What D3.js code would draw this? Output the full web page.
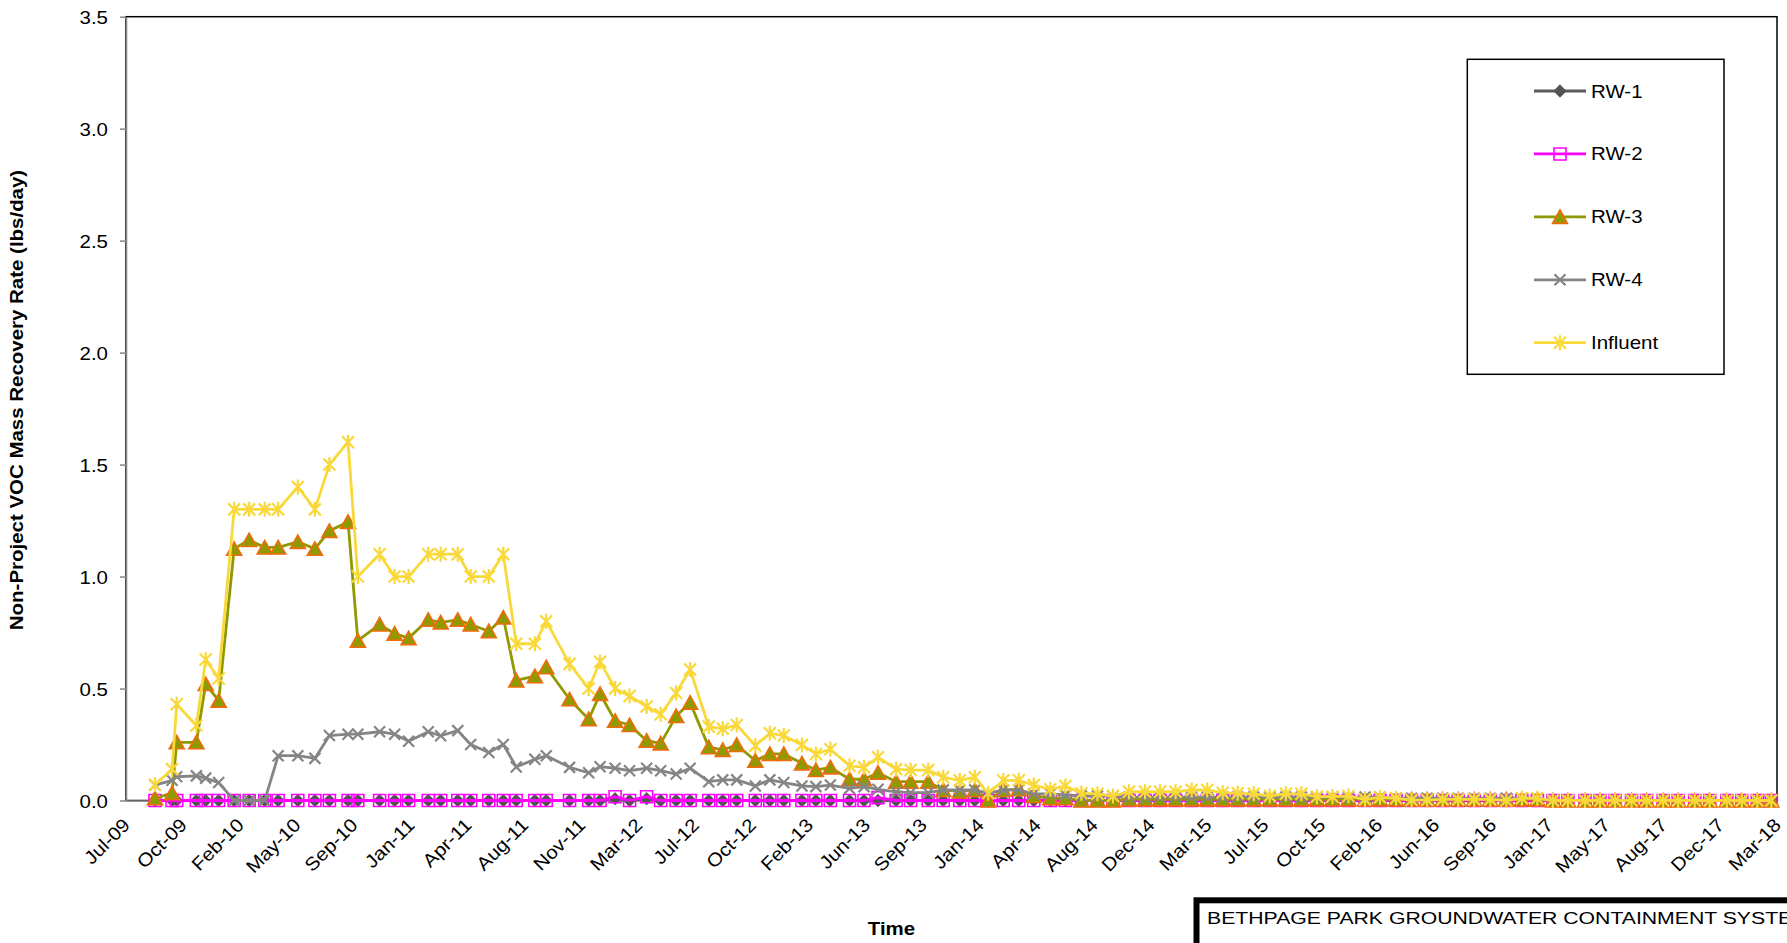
<!DOCTYPE html>
<html>
<head>
<meta charset="utf-8">
<script src="https://cdn.jsdelivr.net/npm/d3@7"></script>
<style>
  body { margin: 0; background: #fff; overflow: hidden; }
  svg { display: block; }
  text { font-family: "Liberation Sans", Arial, sans-serif; }
</style>
</head>
<body>
<svg id="chart" width="1787" height="943"></svg>
<script>
// sampling dates
var sampleDates = [
  "2009-08-27", "2009-09-29", "2009-10-08", "2009-11-15", "2009-12-03", "2009-12-28", "2010-01-27", "2010-02-25", "2010-03-27", "2010-04-22",
  "2010-05-30", "2010-07-02", "2010-07-30", "2010-09-04", "2010-09-23", "2010-11-04", "2010-12-03", "2010-12-30", "2011-02-06", "2011-03-02",
  "2011-04-04", "2011-04-29", "2011-06-03", "2011-07-01", "2011-07-26", "2011-08-31", "2011-09-22", "2011-11-06", "2011-12-13", "2012-01-04",
  "2012-02-02", "2012-03-01", "2012-04-03", "2012-04-30", "2012-05-30", "2012-06-26", "2012-08-01", "2012-08-28", "2012-09-24", "2012-10-30",
  "2012-11-27", "2012-12-24", "2013-01-28", "2013-02-24", "2013-03-24", "2013-04-30", "2013-05-28", "2013-06-24", "2013-07-29", "2013-08-26",
  "2013-09-29", "2013-10-28", "2013-11-29", "2013-12-28", "2014-01-23", "2014-02-21", "2014-03-23", "2014-04-21", "2014-05-23", "2014-06-21",
  "2014-07-22", "2014-08-22", "2014-09-21", "2014-10-22", "2014-11-22", "2014-12-21", "2015-01-20", "2015-02-20", "2015-03-22", "2015-04-21",
  "2015-05-20", "2015-06-20", "2015-07-21", "2015-08-21", "2015-09-20", "2015-10-20", "2015-11-19", "2015-12-20", "2016-01-21", "2016-02-19",
  "2016-03-21", "2016-04-20", "2016-05-20", "2016-06-19", "2016-07-19", "2016-08-19", "2016-09-19", "2016-10-20", "2016-11-19", "2016-12-19",
  "2017-01-18", "2017-02-16", "2017-03-21", "2017-04-19", "2017-05-18", "2017-06-19", "2017-07-18", "2017-08-19", "2017-09-17", "2017-10-19",
  "2017-11-17", "2017-12-20", "2018-01-18", "2018-02-17", "2018-03-16"
];

var rw1 = [
  0, 0, 0, 0, 0, 0, 0, 0, 0, 0,
  0, 0, 0, 0, 0, 0, 0, 0, 0, 0,
  0, 0, 0, 0, 0, 0, 0, 0, 0, 0,
  0.008, 0, 0.008, 0, 0, 0, 0, 0, 0, 0,
  0, 0, 0, 0, 0, 0, 0, 0, 0, 0,
  0, 0, 0, 0, 0, 0, 0, 0, 0, 0,
  0, 0, 0, 0, 0, 0, 0, 0, 0, 0,
  0, 0, 0, 0, 0, 0, 0, 0, 0, 0,
  0, 0, 0, 0, 0, 0, 0, 0, 0, 0,
  0, 0, 0, 0, 0, 0, 0, 0, 0, 0,
  0, 0, 0, 0, 0
];

var rw2 = [
  0, 0, 0, 0, 0, 0, 0, 0, 0, 0,
  0, 0, 0, 0, 0, 0, 0, 0, 0, 0,
  0, 0, 0, 0, 0, 0, 0, 0, 0, 0,
  0.017, 0, 0.017, 0, 0, 0, 0, 0, 0, 0,
  0, 0, 0, 0, 0, 0, 0, 0.013, 0, 0,
  0, 0, 0, 0, 0, 0, 0, 0, 0, 0,
  0, 0, 0, 0, 0, 0, 0, 0, 0, 0,
  0, 0, 0, 0, 0, 0, 0, 0, 0, 0,
  0, 0, 0, 0, 0, 0, 0, 0, 0, 0,
  0, 0, 0, 0, 0, 0, 0, 0, 0, 0,
  0, 0, 0, 0, 0
];

var rw3 = [
  0.01, 0.033, 0.26, 0.26, 0.52, 0.446, 1.124, 1.163, 1.13, 1.13,
  1.155, 1.124, 1.204, 1.244, 0.714, 0.786, 0.745, 0.725, 0.807, 0.795,
  0.807, 0.786, 0.756, 0.817, 0.536, 0.555, 0.595, 0.452, 0.363, 0.476,
  0.356, 0.337, 0.267, 0.255, 0.377, 0.437, 0.238, 0.226, 0.248, 0.178,
  0.208, 0.208, 0.166, 0.136, 0.148, 0.095, 0.095, 0.124, 0.084, 0.084,
  0.084, 0.047, 0.04, 0.047, 0, 0.047, 0.05, 0.02, 0.01, 0.01,
  0, 0, 0, 0.005, 0.005, 0.005, 0.005, 0.005, 0.005, 0.005,
  0.005, 0.005, 0.005, 0.005, 0.005, 0.005, 0.005, 0.005, 0.005, 0.005,
  0.005, 0.005, 0.005, 0.005, 0.005, 0.005, 0.005, 0.005, 0.005, 0.005,
  0, 0, 0, 0, 0, 0, 0, 0, 0, 0,
  0, 0, 0, 0, 0
];

var rw4 = [
  0.069, 0.09, 0.106, 0.11, 0.10, 0.08, 0, 0, 0, 0.2,
  0.2, 0.188, 0.29, 0.296, 0.296, 0.307, 0.296, 0.265, 0.307, 0.289,
  0.312, 0.25, 0.214, 0.25, 0.15, 0.184, 0.2, 0.148, 0.124, 0.151,
  0.144, 0.133, 0.144, 0.133, 0.118, 0.144, 0.084, 0.092, 0.092, 0.065,
  0.092, 0.08, 0.065, 0.062, 0.069, 0.054, 0.062, 0.05, 0.039, 0.035,
  0.035, 0.047, 0.047, 0.047, 0.032, 0.047, 0.047, 0.03, 0.03, 0.025,
  0.02, 0.02, 0.02, 0.015, 0.015, 0.015, 0.015, 0.015, 0.015, 0.015,
  0.015, 0.015, 0.015, 0.015, 0.015, 0.015, 0.015, 0.015, 0.015, 0.015,
  0.01, 0.01, 0.01, 0.01, 0.01, 0.01, 0.01, 0.01, 0.01, 0.01,
  0, 0, 0, 0, 0, 0, 0, 0, 0, 0,
  0, 0, 0, 0, 0
];

var influent = [
  0.07, 0.14, 0.43, 0.335, 0.63, 0.545, 1.30, 1.30, 1.30, 1.30,
  1.40, 1.30, 1.50, 1.60, 1.00, 1.10, 1.00, 1.00, 1.10, 1.10,
  1.10, 1.00, 1.00, 1.10, 0.70, 0.70, 0.80, 0.61, 0.50, 0.62,
  0.50, 0.467, 0.42, 0.385, 0.48, 0.585, 0.33, 0.32, 0.337, 0.245,
  0.30, 0.29, 0.248, 0.208, 0.229, 0.155, 0.148, 0.193, 0.14, 0.136,
  0.136, 0.104, 0.089, 0.104, 0.032, 0.089, 0.09, 0.069, 0.05, 0.065,
  0.032, 0.03, 0.02, 0.039, 0.039, 0.039, 0.039, 0.047, 0.047, 0.035,
  0.032, 0.03, 0.02, 0.03, 0.03, 0.017, 0.017, 0.02, 0.005, 0.014,
  0.01, 0.002, 0.002, 0.005, 0.005, 0.005, 0.005, 0, 0.01, 0.01,
  0, 0, 0, 0, 0, 0, 0, 0, 0, 0,
  0, 0, 0, 0, 0
];

var seriesNames = ["RW-1", "RW-2", "RW-3", "RW-4", "Influent"];
var seriesValues = [rw1, rw2, rw3, rw4, influent];

var tickLabels = ["Jul-09", "Oct-09", "Feb-10", "May-10", "Sep-10", "Jan-11", "Apr-11", "Aug-11", "Nov-11", "Mar-12",
  "Jul-12", "Oct-12", "Feb-13", "Jun-13", "Sep-13", "Jan-14", "Apr-14", "Aug-14", "Dec-14", "Mar-15",
  "Jul-15", "Oct-15", "Feb-16", "Jun-16", "Sep-16", "Jan-17", "May-17", "Aug-17", "Dec-17", "Mar-18"];
var yTicks = [0, 0.5, 1.0, 1.5, 2.0, 2.5, 3.0, 3.5];

var yTitle = "Non-Project VOC Mass Recovery Rate (lbs/day)";
var xTitle = "Time";
var boxTitle = "BETHPAGE PARK GROUNDWATER CONTAINMENT SYSTEM";

// styles
var styles = {
  "RW-1": {line: "#5b5b5b", marker: "diamond", fill: "#545454", stroke: "#545454"},
  "RW-2": {line: "#ff00ff", marker: "square", fill: "none", stroke: "#ff00ff"},
  "RW-3": {line: "#8f9a00", marker: "triangle", fill: "#8f9a00", stroke: "#ef6c0c"},
  "RW-4": {line: "#858585", marker: "x", fill: "none", stroke: "#858585"},
  "Influent": {line: "#f9d93a", marker: "star", fill: "none", stroke: "#f9d93a"}
};

var fs = 18.6, SX = 1.1;
var plot = {left: 126, top: 16.7, right: 1777, bottom: 800.5};

var parse = d3.timeParse("%Y-%m-%d");
var axisStart = parse("2009-07-02");
var axisEnd = d3.timeDay.offset(axisStart, 3190);

var x = d3.scaleTime().domain([axisStart, axisEnd]).range([plot.left, plot.right]);
var y = d3.scaleLinear().domain([0, 3.5]).range([plot.bottom, plot.top]);

var svg = d3.select("#chart");

svg.append("rect")
  .attr("x", plot.left).attr("y", plot.top)
  .attr("width", plot.right - plot.left).attr("height", plot.bottom - plot.top)
  .attr("fill", "#fff").attr("stroke", "#000").attr("stroke-width", 1.5);

// y axis
var yAxis = d3.axisLeft(y).tickValues(yTicks).tickFormat(d3.format(".1f"))
  .tickSize(6).tickSizeOuter(0);
var gy = svg.append("g").attr("transform", "translate(" + plot.left + ",0)").call(yAxis);
gy.select(".domain").attr("stroke", "#878787").attr("stroke-width", 1.5);
gy.selectAll(".tick line").attr("stroke", "#878787").attr("stroke-width", 1.5);
gy.selectAll(".tick text")
  .attr("x", null).attr("dy", "0.35em")
  .attr("transform", "translate(-18,0) scale(" + SX + ",1)")
  .attr("font-size", fs).attr("font-family", "Liberation Sans, Arial, sans-serif").attr("fill", "#000");

// x axis
var tickDates = tickLabels.map(function(l, i) {
  return d3.timeDay.offset(axisStart, i * 110);
});
var xAxis = d3.axisBottom(x).tickValues(tickDates)
  .tickFormat(function(d, i) { return tickLabels[i]; })
  .tickSize(0).tickSizeOuter(0);
var gx = svg.append("g").attr("transform", "translate(0," + plot.bottom + ")").call(xAxis);
gx.select(".domain").attr("stroke", "#878787").attr("stroke-width", 1.5);
gx.selectAll(".tick text")
  .attr("y", null).attr("dy", "0.35em").attr("text-anchor", "end")
  .attr("transform", "translate(0,21) rotate(-45) scale(" + SX + ",1)")
  .attr("font-size", fs).attr("font-family", "Liberation Sans, Arial, sans-serif").attr("fill", "#000");

// axis titles
svg.append("text")
  .attr("transform", "translate(23,400) rotate(-90) scale(" + SX + ",1)")
  .attr("text-anchor", "middle").attr("font-weight", "bold").attr("font-size", fs)
  .text(yTitle);

svg.append("text")
  .attr("transform", "translate(891.5,935) scale(" + SX + ",1)")
  .attr("text-anchor", "middle").attr("font-weight", "bold").attr("font-size", fs)
  .text(xTitle);

function markerPath(kind) {
  if (kind == "diamond") return "M0,-5.5L5.5,0L0,5.5L-5.5,0Z";
  if (kind == "square") return "M-6,-6H6V6H-6Z";
  if (kind == "triangle") return "M0,-7L7.5,6.5L-7.5,6.5Z";
  if (kind == "x") return "M-5.5,-5.5L5.5,5.5M-5.5,5.5L5.5,-5.5";
  return "M-6,-6L6,6M-6,6L6,-6M0,-7.5V7.5";
}

function drawMarker(g, st) {
  return g.append("path")
    .attr("d", markerPath(st.marker))
    .attr("fill", st.fill)
    .attr("stroke", st.stroke)
    .attr("stroke-width", st.marker == "x" || st.marker == "star" ? 2.2 : 1.6);
}

var line = d3.line()
  .x(function(d) { return x(d.date); })
  .y(function(d) { return y(d.v); });

seriesNames.forEach(function(name, si) {
  var st = styles[name];
  var pts = sampleDates.map(function(s, i) {
    return {date: parse(s), v: seriesValues[si][i]};
  });
  var g = svg.append("g");
  g.append("path").datum(pts)
    .attr("d", line)
    .attr("fill", "none")
    .attr("stroke", st.line)
    .attr("stroke-width", 2.8)
    .attr("stroke-linejoin", "round");
  g.selectAll("g.mk").data(pts).enter().append("g")
    .attr("class", "mk")
    .attr("transform", function(d) { return "translate(" + x(d.date) + "," + y(d.v) + ")"; })
    .each(function() { drawMarker(d3.select(this), st); });
});

// legend
var lg = svg.append("g");
lg.append("rect")
  .attr("x", 1467.3).attr("y", 59.3).attr("width", 256.7).attr("height", 315)
  .attr("fill", "#fff").attr("stroke", "#000").attr("stroke-width", 1.5);
var legendY = d3.scalePoint().domain(seriesNames).range([91, 342.7]);
seriesNames.forEach(function(name) {
  var st = styles[name];
  var ly = legendY(name);
  lg.append("line").attr("x1", 1534).attr("x2", 1586).attr("y1", ly).attr("y2", ly)
    .attr("stroke", st.line).attr("stroke-width", 2.8);
  drawMarker(lg.append("g").attr("transform", "translate(1560," + ly + ")"), st);
  lg.append("text")
    .attr("transform", "translate(1591," + ly + ") scale(" + SX + ",1)")
    .attr("dy", "0.35em").attr("font-size", fs).text(name);
});

// title box (runs past the page edge, as in the source)
svg.append("rect")
  .attr("x", 1196.5).attr("y", 900.3).attr("width", 800).attr("height", 200)
  .attr("fill", "#fff").attr("stroke", "#000").attr("stroke-width", 6);
svg.append("text")
  .attr("transform", "translate(1207,924) scale(1.22,1)")
  .attr("font-size", 17.4).text(boxTitle);
</script>
</body>
</html>
